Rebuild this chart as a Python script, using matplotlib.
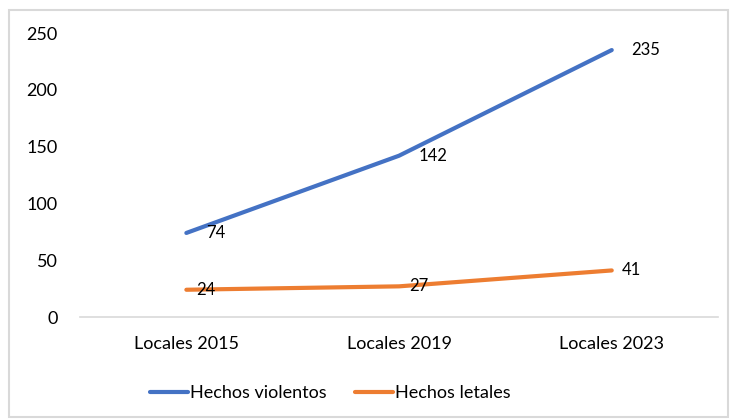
import matplotlib.pyplot as plt
from matplotlib.patches import Rectangle

plt.rcParams['font.family'] = ['Lato', 'DejaVu Sans']

# --- Data ---
categories = ['Locales 2015', 'Locales 2019', 'Locales 2023']
violentos = [74, 142, 235]
letales = [24, 27, 41]

BLUE = '#4472C4'
ORANGE = '#ED7D31'
TXT = '#000000'

fig = plt.figure(figsize=(7.32, 4.19), dpi=100)
ax = fig.add_axes([0.1093, 0.2434, 0.8717, 0.6778])

x = range(len(categories))
ax.plot(x, violentos, color=BLUE, lw=3.0, solid_capstyle='round', label='Hechos violentos')
ax.plot(x, letales, color=ORANGE, lw=3.0, solid_capstyle='round', label='Hechos letales')

# data labels to the right of each point
for xi, v in zip(x, violentos):
    ax.annotate(str(v), (xi, v), xytext=(14, 0), textcoords='offset points',
                ha='left', va='center', fontsize=12, color=TXT)
for xi, v in zip(x, letales):
    ax.annotate(str(v), (xi, v), xytext=(7, 0), textcoords='offset points',
                ha='left', va='center', fontsize=12, color=TXT)

ax.set_xlim(-0.5, 2.5)
ax.set_ylim(0, 250)
ax.set_yticks([0, 50, 100, 150, 200, 250])
ax.set_xticks(list(x))
ax.set_xticklabels(categories)
ax.tick_params(axis='both', length=0, labelsize=13, colors=TXT)
ax.tick_params(axis='y', pad=16)
ax.tick_params(axis='x', pad=14)

for s in ['top', 'right', 'left']:
    ax.spines[s].set_visible(False)
ax.spines['bottom'].set_color('#D9D9D9')
ax.spines['bottom'].set_linewidth(1.2)

leg = fig.legend(loc='center', bbox_to_anchor=(0.451, 0.062), ncol=2, frameon=False,
                 fontsize=13, handlelength=2.1, handletextpad=0.1, columnspacing=1.6)

# outer chart border
fig.patches.append(Rectangle((0.012, 0.004), 0.982, 0.972, transform=fig.transFigure,
                             fill=False, edgecolor='#D9D9D9', lw=1.5))

fig.savefig('out.png', dpi=100)
